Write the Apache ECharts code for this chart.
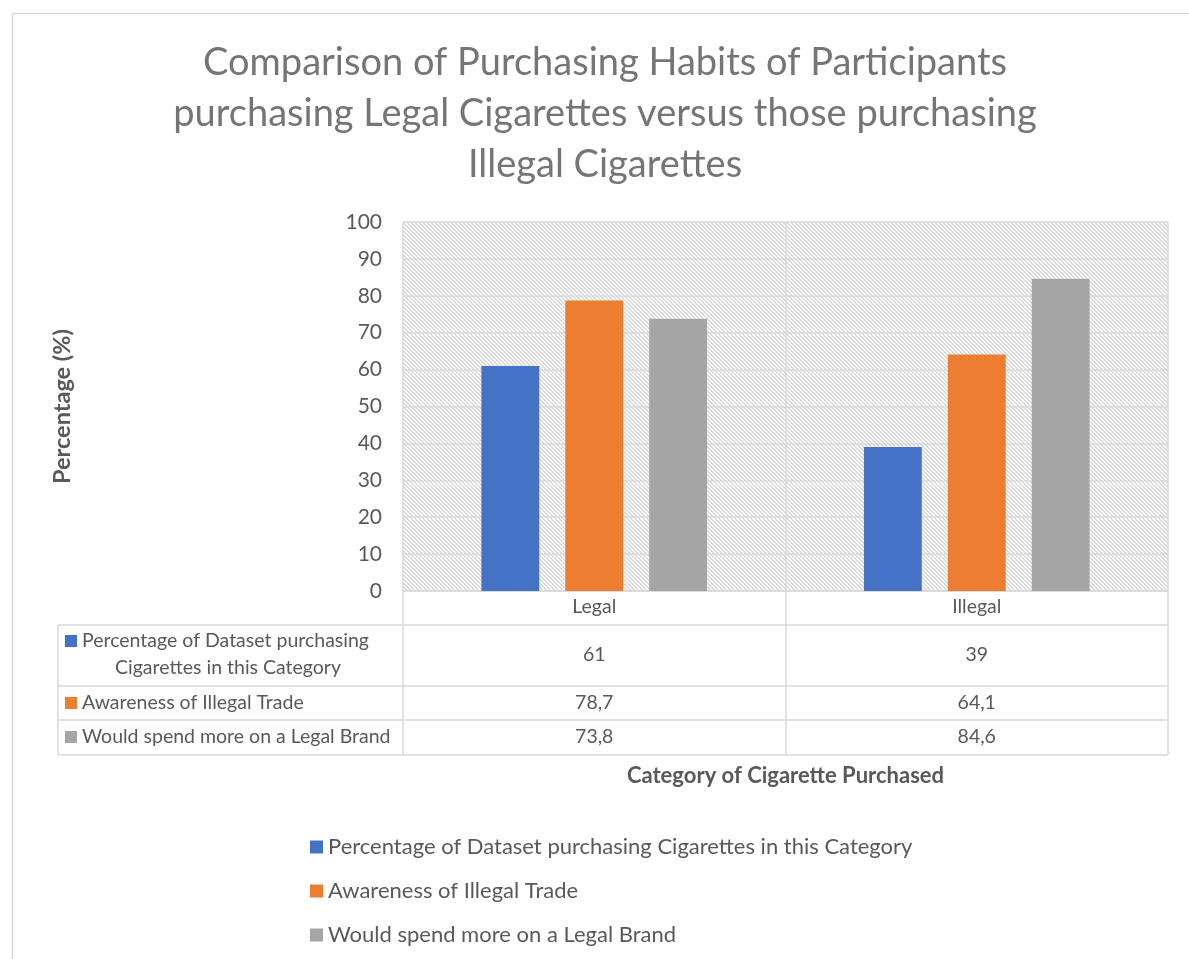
<!DOCTYPE html>
<html><head><meta charset="utf-8">
<script src="https://cdn.jsdelivr.net/npm/echarts@6/dist/echarts.min.js"></script>
<style>html,body{margin:0;padding:0;background:#fff}#c{width:1189px;height:959px}</style>
</head><body><div id="c"></div>
<script>
const categories = ['Legal', 'Illegal'];
const seriesNames = [
  'Percentage of Dataset purchasing Cigarettes in this Category',
  'Awareness of Illegal Trade',
  'Would spend more on a Legal Brand'
];
const datasetShare = [61, 39];
const awarenessIllegal = [78.7, 64.1];
const spendMoreLegal = [73.8, 84.6];
const titleLines = [
  'Comparison of Purchasing Habits of Participants',
  'purchasing Legal Cigarettes versus those purchasing',
  'Illegal Cigarettes'
];
const yAxisName = 'Percentage (%)';
const xAxisName = 'Category of Cigarette Purchased';

const seriesValues = [datasetShare, awarenessIllegal, spendMoreLegal];
const colors = ['#4472C4', '#ED7D31', '#A5A5A5'];
const FONT = 'Lato';
const TXT = '#595959';
const LINE = '#d9d9d9';
const TABLE_FS = 19.5;
const fmt = v => String(v).replace('.', ',');

// hatch pattern
const pc = document.createElement('canvas');
pc.width = 4; pc.height = 4;
const pctx = pc.getContext('2d');
pctx.fillStyle = '#ffffff'; pctx.fillRect(0, 0, 4, 4);
pctx.fillStyle = '#dadada';
for (let i = 0; i < 4; i++) { pctx.fillRect(i, i, 1, 1); pctx.fillRect((i + 1) % 4, i, 1, 1); }

const rowMargins = [64, 112, 146];
const valueAxes = seriesValues.map((vals, i) => ({
  type: 'category', data: vals.map(fmt), position: 'bottom', offset: 0,
  axisLine: { show: false }, axisTick: { show: false }, splitLine: { show: false },
  axisLabel: { margin: rowMargins[i], verticalAlign: 'middle', fontSize: TABLE_FS, color: TXT, fontFamily: FONT }
}));

const tableRows = [625, 686, 720, 755];
const graphics = [
  { type: 'rect', shape: { x: 12.5, y: 13.5, width: 1200, height: 1000 }, style: { fill: null, stroke: LINE, lineWidth: 1.5 }, silent: true }
];
tableRows.forEach(y => graphics.push({ type: 'line', shape: { x1: 58, y1: y, x2: 1168, y2: y }, style: { stroke: LINE, lineWidth: 1.5 }, silent: true }));
graphics.push({ type: 'line', shape: { x1: 58, y1: 625, x2: 58, y2: 755 }, style: { stroke: LINE, lineWidth: 1.5 }, silent: true });

const firstName = seriesNames[0];
const splitAt = firstName.indexOf('Cigarettes');
const rowLabelSpecs = [
  { y: 641, text: firstName.slice(0, splitAt).trim(), color: colors[0], second: firstName.slice(splitAt) },
  { y: 703, text: seriesNames[1], color: colors[1] },
  { y: 737, text: seriesNames[2], color: colors[2] }
];
rowLabelSpecs.forEach(r => {
  graphics.push({ type: 'rect', shape: { x: 65, y: r.y - 6, width: 12, height: 12 }, style: { fill: r.color }, silent: true });
  graphics.push({ type: 'text', x: 82, y: r.y, style: { text: r.text, fontSize: TABLE_FS, fontFamily: FONT, fill: TXT, textAlign: 'left', textVerticalAlign: 'middle', verticalAlign: 'middle' }, silent: true });
  if (r.second) {
    graphics.push({ type: 'text', x: 228, y: r.y + 27, style: { text: r.second, fontSize: TABLE_FS, fontFamily: FONT, fill: TXT, textAlign: 'center', textVerticalAlign: 'middle', verticalAlign: 'middle' }, silent: true });
  }
});

const chart = echarts.init(document.getElementById('c'), null, { renderer: 'canvas' });
chart.setOption({
  backgroundColor: '#ffffff',
  animation: false,
  textStyle: { fontFamily: FONT },
  title: {
    text: titleLines.join('\n'), left: 605, textAlign: 'center', top: 32, padding: [5, 0, 5, 0],
    textStyle: { fontSize: 38, lineHeight: 51, color: '#757575', fontWeight: 'normal', fontFamily: FONT }
  },
  legend: {
    orient: 'vertical', left: 305, top: 831, itemWidth: 13, itemHeight: 13, itemGap: 22,
    icon: 'rect', data: seriesNames,
    textStyle: { fontSize: 22, color: TXT, fontFamily: FONT }
  },
  grid: {
    left: 403, right: 21, top: 222, bottom: 368, show: true,
    backgroundColor: { image: pc, repeat: 'repeat' }, borderWidth: 0, containLabel: false
  },
  xAxis: [{
    type: 'category', data: categories, position: 'bottom', offset: 0,
    axisLine: { show: true, lineStyle: { color: LINE, width: 1.5 } },
    axisTick: { show: true, length: 164, lineStyle: { color: LINE, width: 1.5 } },
    axisLabel: { margin: 16, verticalAlign: 'middle', fontSize: TABLE_FS, color: TXT, fontFamily: FONT },
    splitLine: { show: true, lineStyle: { color: LINE, width: 1.5 } },
    name: xAxisName, nameLocation: 'middle', nameGap: 174,
    nameTextStyle: { fontWeight: 'bold', fontSize: 22, color: TXT, fontFamily: FONT }
  }].concat(valueAxes),
  yAxis: {
    type: 'value', min: 0, max: 100, interval: 10,
    axisLine: { show: false }, axisTick: { show: false },
    axisLabel: { fontSize: 21, color: TXT, margin: 21, fontFamily: FONT },
    splitLine: { lineStyle: { color: LINE, width: 1.5 } },
    name: yAxisName, nameLocation: 'middle', nameGap: 329,
    nameTextStyle: { fontWeight: 'bold', fontSize: 23.5, color: TXT, fontFamily: FONT }
  },
  series: seriesValues.map((vals, i) => ({
    name: seriesNames[i], type: 'bar', xAxisIndex: 0, data: vals,
    barGap: '45%', barCategoryGap: '41%',
    itemStyle: { color: colors[i] }
  })),
  graphic: graphics
});
</script></body></html>
